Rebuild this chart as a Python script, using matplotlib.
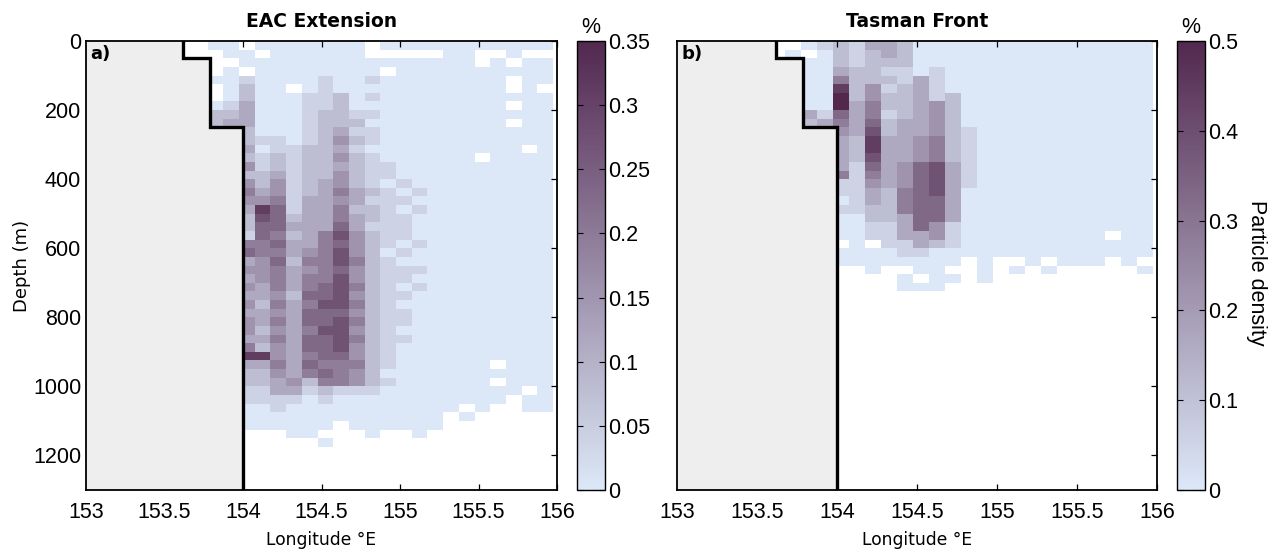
import numpy as np
import matplotlib.pyplot as plt
from matplotlib.colors import LinearSegmentedColormap

# --- grid of the density boxes: 0.1 deg wide, 25 m deep ---
LON_EDGES = np.linspace(153.675, 155.975, 24)
DEPTH_EDGES = np.arange(0, 1325, 25)
N_ROWS = len(DEPTH_EDGES) - 1

# coastline / shelf steps (lon, depth)
COAST_LON = [153.62, 153.62, 153.79, 153.79, 154.0, 154.0]
COAST_DEPTH = [0, 50, 50, 250, 250, 1300]

# density level of each box, one string per longitude column, top to bottom
# '0'..'9' -> 0..1 of the colour-bar maximum, '.' -> no particles
EAC_MAX = 0.35
EAC_TICKS = [0, 0.05, 0.1, 0.15, 0.2, 0.25, 0.3, 0.35]
EAC_LEVELS = [
    "",
    "0...0..022",
    "00.0000123",
    ".00.122333" "2232424543" "2215634343" "4344358322" "11000",
    "0.00000000" "0101122348" "7665544433" "2332328322" "11000",
    "00000000000" "1122" "344" "5666565655" "54545454454" "331100",
    "00000" "." "000000" "11111111" "2323323332" "333333333" "43" "1" "0000",
    "000000" "111111" "222222" "333333" "4545" "56566566565" "2" "1" "00000",
    "0000" "1111" "22222222" "333333" "555555" "667667666" "565" "2" "1" "000" "." "0",
    "000000" "2222" "343434" "45455" "6767767777677776" "555" "1" "000",
    "00000000" "12121222" "233233" "4445445" "45454544544" "1" "0000",
    ".." "00101010110111" "12122122222222" "2222222222" "1" "00000",
    "0.0." "0000000000" "11011111110111111111111101" "00000",
    "0." "00000000000000" "10101110101101011010" "000000000",
    "0." "00000000000000" "0101000100101000" "00000000000000",
    "0." "0000000000" "0000000000" "0000000000" "0000000000" "000",
    "0000000000" "0000000000" "0000000000" "0000000000" "000",
    "0000000000" "0000000000" "0000000000" "0000000000" "00" "." "0",
    "0.." "0000000000" "." "0000000000" "0000000000" "000000000",
    "0." "0000000000" "0000000000" "0000000000" "00000" "." "0" "." "00",
    "00.0..0.0." "0000000000" "0000000000" "0000000000" "0",
    "0." "0000000000" "." "0000000000" "0000000000" "0000000" "." "00",
    "0." "000" "." "0000000000" "0000000000" "0000000000" "0000000",
]

TASMAN_MAX = 0.5
TASMAN_TICKS = [0, 0.1, 0.2, 0.3, 0.4, 0.5]
TASMAN_LEVELS = [
    ".0",
    "0.00000032",
    "1000000013",
    "2223589965" "433335" "1101000" "." "00",
    "111" "2222" "3333" "222" "111111" "000000",
    "3" "2222" "445" "567887654332211" "." "000",
    "33" "212122122" "333333" "2222" "111" "00",
    "222" "11" "2222" "33333" "444" "555" "333" "11" "0" "." "00",
    "0000" "3333333" "444" "66666666" "33" "100" "." "0",
    "000" "1111" "4444" "555" "7777" "666" "44" "2" "00000",
    "000000" "22222222" "3333333" "111" "00" "." "0",
    "0000000000" "1111111" "00000000",
    "0000000000" "0000000000" "00000000",
    "0000000000" "0000000000" "00000",
    "0000000000" "0000000000" "00000" "." "0",
    "0000000000" "0000000000" "000000",
    "0000000000" "0000000000" "00000" "." "0",
    "0000000000" "0000000000" "000000",
    "0000000000" "0000000000" "000000",
    "0000000000" "0000000000" "000000",
    "0000000000" "0000000000" "00" "." "00",
    "0000000000" "0000000000" "000000",
    "0000000000" "0000000000" "00000" "." "0",
]

X_TICKS = [153, 153.5, 154, 154.5, 155, 155.5, 156]
Y_TICKS = [0, 200, 400, 600, 800, 1000, 1200]

TICK_FONT = "Liberation Sans"
TICK_SIZE = 15.5

cmap = LinearSegmentedColormap.from_list("density", ["#dce8f8", "#52284f"])


def decode(levels, vmax):
    grid = np.full((N_ROWS, len(levels)), np.nan)
    for j, col in enumerate(levels):
        for i, ch in enumerate(col[:N_ROWS]):
            if ch != ".":
                grid[i, j] = int(ch) / 9 * vmax
    return np.ma.masked_invalid(grid)


W, H = 1282, 556
fig = plt.figure(figsize=(W / 100, H / 100), dpi=100)


def px_axes(left, top, width, height):
    return fig.add_axes([left / W, 1 - (top + height) / H, width / W, height / H])


def draw_panel(ax, cax, levels, vmax, cticks, title, tag, show_depth):
    mesh = ax.pcolormesh(LON_EDGES, DEPTH_EDGES, decode(levels, vmax),
                         cmap=cmap, vmin=0, vmax=vmax, shading="flat")
    land_lon = [153.0] + COAST_LON + [153.0]
    land_depth = [0] + COAST_DEPTH + [1300]
    ax.fill(land_lon, land_depth, color="#eeeeee", lw=0, zorder=2)
    ax.plot(COAST_LON, COAST_DEPTH, color="black", lw=2.4, zorder=3,
            solid_joinstyle="miter")

    ax.set_xlim(153, 156)
    ax.set_ylim(1300, 0)
    ax.set_xticks(X_TICKS)
    ax.set_xticklabels([f"{t:g}" for t in X_TICKS])
    ax.set_yticks(Y_TICKS)
    ax.tick_params(direction="in", top=True, right=True, length=4, width=0.9,
                   labelsize=TICK_SIZE, labelfontfamily=TICK_FONT,
                   labelleft=show_depth)
    ax.tick_params(axis="x", pad=8.5)
    ax.tick_params(axis="y", pad=3.5)
    for sp in ax.spines.values():
        sp.set_linewidth(1.3)
        sp.set_zorder(4)

    ax.set_title(title, fontsize=13.5, fontweight="bold", pad=10)
    ax.annotate(tag, xy=(0, 1), xycoords="axes fraction", xytext=(3, -3),
                textcoords="offset points", ha="left", va="top",
                fontsize=13, fontweight="bold", zorder=5)
    ax.text(0.5, -0.112, "Longitude °E", transform=ax.transAxes,
            ha="center", va="center", fontsize=12.3)

    cb = fig.colorbar(mesh, cax=cax, ticks=cticks)
    cb.ax.set_yticklabels([f"{t:g}" for t in cticks])
    cb.outline.set_linewidth(1.0)
    cax.tick_params(direction="in", left=True, right=True, length=4, width=0.8,
                    labelsize=TICK_SIZE, pad=2, labelfontfamily=TICK_FONT)
    cax.text(0.5, 1.006, "%", transform=cax.transAxes, ha="center",
             va="bottom", fontsize=TICK_SIZE, family=TICK_FONT)


ax_a = px_axes(86, 41, 471, 449)
cax_a = px_axes(577, 41, 28, 449)
ax_b = px_axes(677, 41, 480, 449)
cax_b = px_axes(1177, 41, 28, 449)

draw_panel(ax_a, cax_a, EAC_LEVELS, EAC_MAX, EAC_TICKS, "EAC Extension", "a)", True)
draw_panel(ax_b, cax_b, TASMAN_LEVELS, TASMAN_MAX, TASMAN_TICKS, "Tasman Front", "b)", False)

fig.text(22 / W, 1 - 266 / H, "Depth (m)", rotation=90, ha="center",
         va="center", fontsize=13)
fig.text(1257 / W, 1 - 273 / H, "Particle density", rotation=270,
         ha="center", va="center", fontsize=TICK_SIZE, family=TICK_FONT)

fig.savefig("out.png", dpi=100)
